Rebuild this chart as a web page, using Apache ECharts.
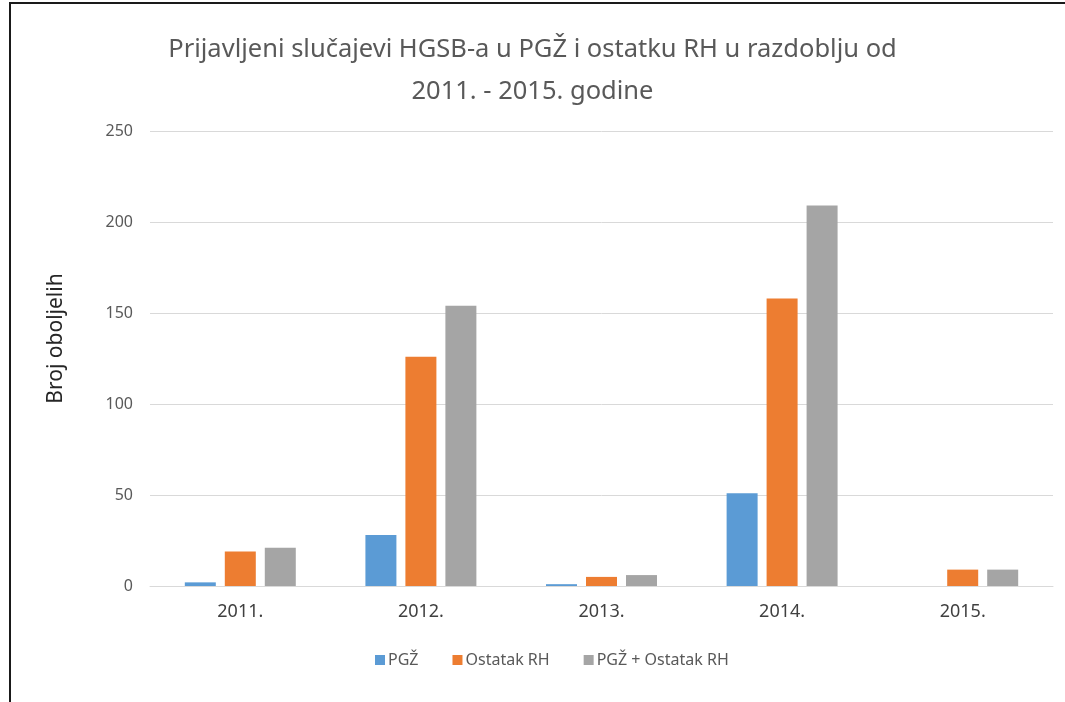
<!DOCTYPE html>
<html>
<head>
<meta charset="utf-8">
<script src="https://cdn.jsdelivr.net/npm/echarts@6/dist/echarts.min.js"></script>
<style>
  html, body { margin: 0; padding: 0; background: #fff; }
  #frame { position: absolute; left: 9px; top: 2px; width: 1056px; height: 700px;
           border-left: 2px solid #1a1a1a; border-top: 2px solid #1a1a1a; box-sizing: border-box; }
  #chart { position: absolute; left: 0; top: 0; width: 1065px; height: 702px; }
</style>
</head>
<body>
<div id="frame"></div>
<div id="chart"></div>
<script>
// podaci
const years = ['2011.', '2012.', '2013.', '2014.', '2015.']
const pgz = [2, 28, 1, 51, 0]
const ostatakRH = [19, 126, 5, 158, 9]
const ukupno = [21, 154, 6, 209, 9]
const yTicks = [0, 50, 100, 150, 200, 250]

const textColor = '#595959'
const fontFamily = '"Noto Sans", sans-serif'

const chart = echarts.init(document.getElementById('chart'))

function barSeries(name, data, color) {
  return {
    name: name,
    type: 'bar',
    data: data,
    barWidth: 31,
    barGap: '29%',
    itemStyle: { color: color },
    emphasis: { disabled: true }
  }
}

chart.setOption({
  animation: false,
  textStyle: { fontFamily: fontFamily },
  title: {
    text: 'Prijavljeni slučajevi HGSB-a u PGŽ i ostatku RH u razdoblju od\n2011. - 2015. godine',
    left: 'center',
    top: 24,
    padding: [5, 5, 5, 21],
    textStyle: {
      fontFamily: fontFamily,
      fontSize: 25.5,
      fontWeight: 'normal',
      color: textColor,
      lineHeight: 42
    }
  },
  legend: {
    bottom: 29,
    left: 370,
    itemWidth: 10,
    itemHeight: 10,
    itemGap: 34,
    icon: 'rect',
    textStyle: { fontSize: 16, color: textColor, fontFamily: fontFamily, padding: [0, 0, 0, -2] },
    data: ['PGŽ', 'Ostatak RH', 'PGŽ + Ostatak RH']
  },
  grid: {
    left: 150,
    right: 12,
    top: 131,
    bottom: 116,
    containLabel: false
  },
  xAxis: {
    type: 'category',
    data: years,
    axisTick: { show: false },
    axisLine: { lineStyle: { color: '#d9d9d9', width: 1 } },
    axisLabel: { fontSize: 18, color: '#404040', margin: 17, fontFamily: fontFamily }
  },
  yAxis: {
    type: 'value',
    min: yTicks[0],
    max: yTicks[yTicks.length - 1],
    interval: 50,
    name: 'Broj oboljelih',
    nameLocation: 'middle',
    nameGap: 83,
    nameTextStyle: { fontSize: 21, color: '#262626', fontFamily: fontFamily, padding: [0, 0, 0, 40] },
    axisLine: { show: false },
    axisTick: { show: false },
    axisLabel: { fontSize: 16, color: textColor, margin: 17, fontFamily: fontFamily },
    splitLine: { lineStyle: { color: '#d9d9d9', width: 1 } }
  },
  series: [
    barSeries('PGŽ', pgz, '#5b9bd5'),
    barSeries('Ostatak RH', ostatakRH, '#ed7d31'),
    barSeries('PGŽ + Ostatak RH', ukupno, '#a5a5a5')
  ]
})

window.addEventListener('resize', () => {
  chart.resize()
})
</script>
</body>
</html>
